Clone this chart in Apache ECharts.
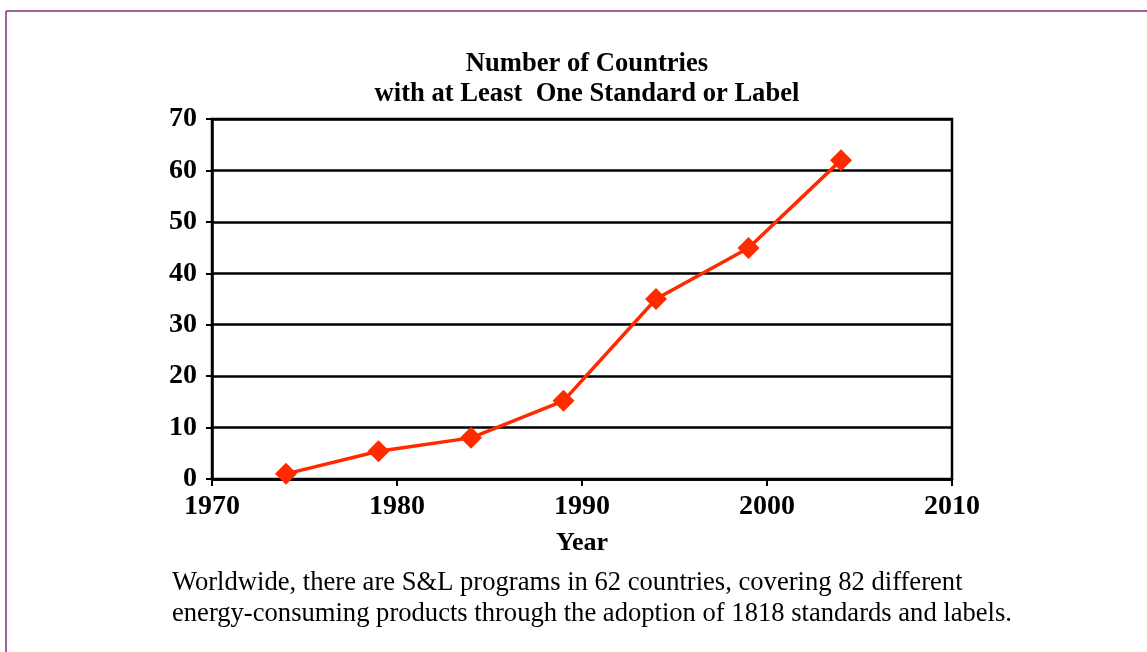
<!DOCTYPE html>
<html>
<head>
<meta charset="utf-8">
<script src="https://cdn.jsdelivr.net/npm/echarts@6/dist/echarts.min.js"></script>
<style>
html,body{margin:0;padding:0;background:#fff;}
#c{width:1147px;height:652px;}
</style>
</head>
<body>
<div id="c"></div>
<script>
var years = [1974, 1979, 1984, 1989, 1994, 1999, 2004];
var countries = [1, 5.4, 8, 15.2, 35, 44.9, 62];
var xTicks = [1970, 1980, 1990, 2000, 2010];
var yTicks = [0, 10, 20, 30, 40, 50, 60, 70];
var titleText = 'Number of Countries\nwith at Least  One Standard or Label';
var xName = 'Year';
var footer = 'Worldwide, there are S&L programs in 62 countries, covering 82 different\nenergy-consuming products through the adoption of 1818 standards and labels.';

var serif = '"Liberation Serif", "Times New Roman", serif';
var chart = echarts.init(document.getElementById('c'), null, {renderer: 'canvas'});
chart.setOption({
  animation: false,
  backgroundColor: '#fff',
  title: {
    text: titleText,
    left: 582, top: 44, textAlign: 'center',
    textStyle: {fontFamily: serif, fontWeight: 'bold', fontSize: 26.6, color: '#000', lineHeight: 30}
  },
  grid: {left: 212, right: 195, top: 119, bottom: 173, show: true, borderColor: '#000', borderWidth: 2.5, backgroundColor: 'transparent'},
  xAxis: {
    type: 'value', min: xTicks[0], max: xTicks[xTicks.length-1], interval: 10,
    axisLine: {lineStyle: {color: '#000', width: 2.5}},
    axisTick: {show: true, length: 7, lineStyle: {color: '#000', width: 2}},
    splitLine: {show: false},
    axisLabel: {fontFamily: serif, fontWeight: 'bold', fontSize: 28, color: '#000', margin: 14, formatter: function(v){return String(v);}}
  },
  yAxis: {
    type: 'value', min: yTicks[0], max: yTicks[yTicks.length-1], interval: 10,
    axisLine: {show: true, lineStyle: {color: '#000', width: 2.5}},
    axisTick: {show: true, length: 6, lineStyle: {color: '#000', width: 2}},
    splitLine: {show: true, lineStyle: {color: '#000', width: 2.5}},
    axisLabel: {fontFamily: serif, fontWeight: 'bold', fontSize: 28, color: '#000', margin: 15}
  },
  series: [{
    type: 'line',
    data: years.map(function(y, i){ return [y, countries[i]]; }),
    lineStyle: {color: '#ff2a00', width: 3.5},
    itemStyle: {color: '#ff2a00'},
    symbol: 'diamond', symbolSize: 22, showSymbol: true
  }],
  graphic: [
    {type: 'line', shape: {x1: 6, y1: 11, x2: 1147, y2: 11}, style: {stroke: '#a0609a', lineWidth: 2}},
    {type: 'line', shape: {x1: 6, y1: 11, x2: 6, y2: 652}, style: {stroke: '#a0609a', lineWidth: 2}},
    {type: 'text', style: {text: xName, x: 582, y: 543, align: 'center', verticalAlign: 'middle', font: 'bold 26px ' + serif, fill: '#000'}},
    {type: 'text', style: {text: footer, x: 172, y: 568, align: 'left', verticalAlign: 'top', font: '26.6px ' + serif, lineHeight: 31, fill: '#000'}}
  ]
});
</script>
</body>
</html>
